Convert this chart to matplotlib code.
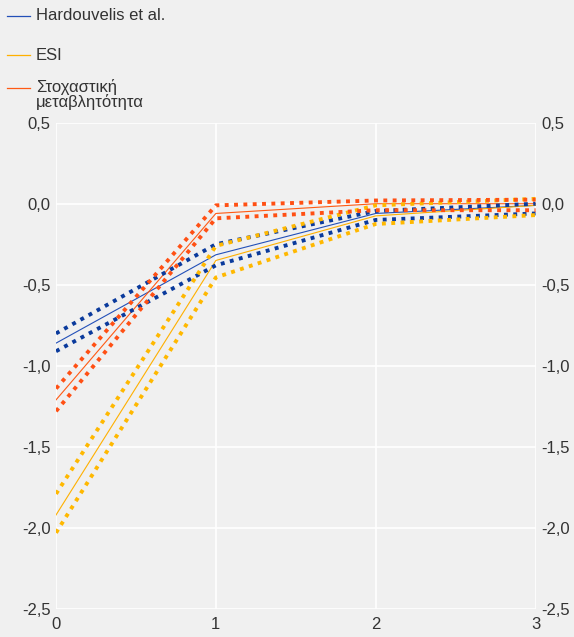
import matplotlib
matplotlib.use("Agg")
import matplotlib.pyplot as plt
from matplotlib.lines import Line2D
from matplotlib.ticker import FuncFormatter

plt.rcParams['font.family'] = ['Liberation Sans', 'DejaVu Sans']

x = [0, 1, 2, 3]
series_names = ["Hardouvelis et al.", "ESI", "Στοχαστική\nμεταβλητότητα"]

hard_mid = [-0.86, -0.315, -0.06, -0.01]
hard_up = [-0.80, -0.25, -0.045, 0.0]
hard_lo = [-0.91, -0.38, -0.10, -0.06]

esi_mid = [-1.92, -0.35, -0.075, -0.01]
esi_up = [-1.79, -0.26, -0.01, 0.03]
esi_lo = [-2.03, -0.455, -0.125, -0.07]

sto_mid = [-1.21, -0.06, 0.0, 0.0]
sto_up = [-1.14, -0.01, 0.02, 0.025]
sto_lo = [-1.28, -0.09, -0.04, -0.04]

yticks = [0.5, 0.0, -0.5, -1.0, -1.5, -2.0, -2.5]

bg = '#f0f0f0'
text_c = '#333333'
c_line = {'hard': '#2350b8', 'esi': '#ffb000', 'sto': '#ff5a14'}
c_dot = {'hard': '#0a3a9c', 'esi': '#ffb800', 'sto': '#ff5014'}

fig = plt.figure(figsize=(5.74, 6.37), dpi=100, facecolor=bg)
ax = fig.add_axes([0.0976, 0.044, 0.8354, 0.7634])
ax.set_facecolor(bg)

groups = [('hard', hard_mid, hard_up, hard_lo),
          ('esi', esi_mid, esi_up, esi_lo),
          ('sto', sto_mid, sto_up, sto_lo)]
for key, mid, up, lo in groups:
    ax.plot(x, mid, color=c_line[key], lw=0.8, zorder=3)
for key, mid, up, lo in groups:
    for s in (up, lo):
        ax.plot(x, s, color=c_dot[key], lw=2.8, linestyle=(0, (1, 1.4)),
                dash_capstyle='butt', zorder=4)

ax.set_xlim(0, 3)
ax.set_ylim(-2.5, 0.5)
ax.set_xticks(x)
ax.set_yticks(yticks)
ax.yaxis.set_major_formatter(FuncFormatter(lambda v, p: f"{v:.1f}".replace('.', ',')))
ax.grid(True, color='white', lw=1.2)
ax.set_axisbelow(True)
for sp in ax.spines.values():
    sp.set_visible(False)
ax.tick_params(axis='both', length=0, labelsize=12, colors=text_c,
               labelleft=True, labelright=True)
ax.tick_params(axis='y', pad=4)
ax.tick_params(axis='x', pad=6)

# legend
W, H = 574, 637
legend_rows = [(16, series_names[0], c_line['hard']),
               (55, series_names[1], c_line['esi']),
               (88, series_names[2], c_line['sto'])]
for ypx, label, col in legend_rows:
    fy = 1 - ypx / H
    fig.add_artist(Line2D([7 / W, 30 / W], [fy, fy], color=col, lw=0.9,
                          transform=fig.transFigure))
    if '\n' in label:
        fig.text(36 / W, fy + 9 / H, label, fontsize=12, color=text_c, va='top',
                 ha='left', linespacing=0.95)
    else:
        fig.text(36 / W, fy, label, fontsize=12, color=text_c, va='center', ha='left')

fig.savefig('out.png', dpi=100, facecolor=bg)
